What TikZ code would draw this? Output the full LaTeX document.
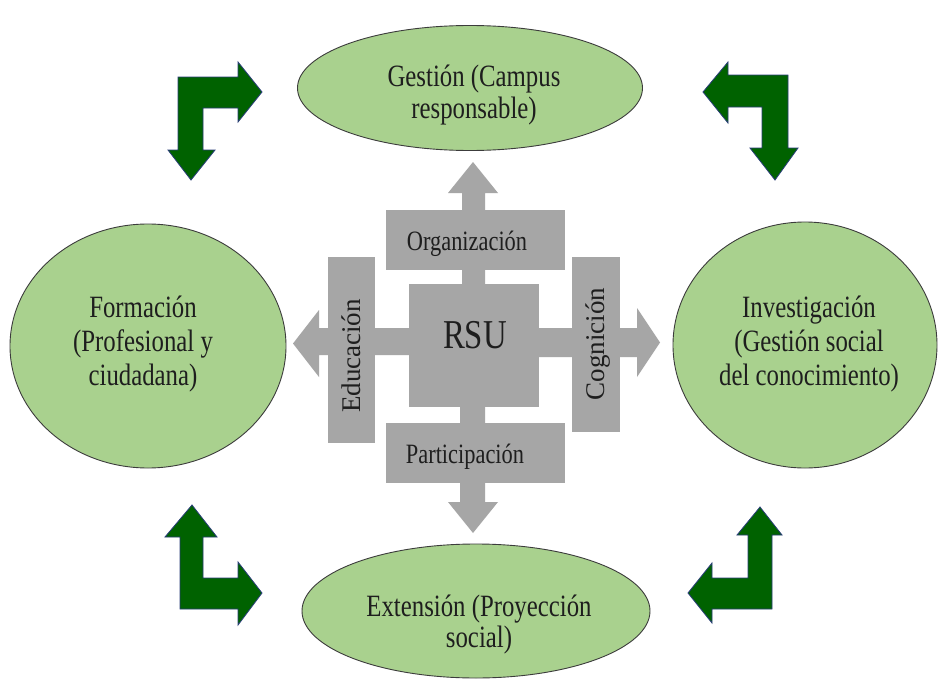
\documentclass[tikz,border=0pt]{standalone}
\usepackage{fontspec}
\setmainfont{Liberation Serif}
\newfontfamily\narrowserif{Liberation Serif}[FakeStretch=0.8]
\usetikzlibrary{shapes.geometric}
\definecolor{ellfill}{RGB}{169,209,142}
\definecolor{elldraw}{RGB}{60,60,60}
\definecolor{grayfill}{RGB}{166,166,166}
\definecolor{arrgreen}{RGB}{0,98,0}
\definecolor{arredge}{RGB}{40,60,120}
\definecolor{txt}{RGB}{30,30,30}
\begin{document}
\begin{tikzpicture}[x=1pt,y=-1pt,
  ell/.style={ellipse, fill=ellfill, draw=elldraw, line width=0.9pt, inner sep=0pt},
  elltext/.style={align=center, inner sep=0pt, font=\narrowserif\fontsize{31}{33}\selectfont, text=txt},
  graybox/.style={rectangle, fill=grayfill, inner sep=0pt},
  labeltext/.style={inner sep=0pt, font=\narrowserif\fontsize{28}{30}\selectfont, text=txt},
  vlabel/.style={inner sep=0pt, font=\fontsize{27}{30}\selectfont, text=txt, rotate=90},
  bent/.style={fill=arrgreen, draw=arredge, line width=0.8pt, line join=miter},
  grayarrow/.style={fill=grayfill}
]
\useasboundingbox (0,0) rectangle (938,680);
\fill[white] (0,0) rectangle (938,680);

% ellipses
\node[ell, minimum width=345pt, minimum height=125pt] (gest) at (470,88) {};
\node[ell, minimum width=276pt, minimum height=244pt] (form) at (148,346) {};
\node[ell, minimum width=264pt, minimum height=246pt] (inve) at (805,345) {};
\node[ell, minimum width=348pt, minimum height=134pt] (exte) at (476,611) {};

\node[elltext, font=\narrowserif\fontsize{31}{32}\selectfont] (gestt) at (474,95) {Gestión (Campus\\responsable)};
\node[elltext, font=\narrowserif\fontsize{31}{34}\selectfont] (formt) at (143,344) {Formación\\(Profesional y\\ciudadana)};
\node[elltext, font=\narrowserif\fontsize{31}{34}\selectfont] (invet) at (809,344) {Investigación\\(Gestión social\\del conocimiento)};
\node[elltext, font=\narrowserif\fontsize{31}{31}\selectfont] (extet) at (479,625) {Extensión (Proyección\\social)};

% gray arrows
\fill[grayarrow] (462,290) -- (462,193) -- (448,193) -- (473,162) -- (498,193) -- (485,193) -- (485,290) -- cycle;
\fill[grayarrow] (460,400) -- (460,502) -- (448,502) -- (473,533) -- (498,502) -- (485,502) -- (485,400) -- cycle;
\fill[grayarrow] (415,328) -- (319,328) -- (319,310) -- (293,343.5) -- (319,377) -- (319,355) -- (415,355) -- cycle;
\fill[grayarrow] (535,328) -- (637,328) -- (637,308) -- (660,342.5) -- (637,377) -- (637,357) -- (535,357) -- cycle;

% gray boxes
\node[graybox, minimum width=179pt, minimum height=60pt] (orgbox) at (475.5,240) {};
\node[graybox, minimum width=179pt, minimum height=60pt] (parbox) at (475.5,453) {};
\node[graybox, minimum width=47pt, minimum height=186pt] (edubox) at (351.5,350) {};
\node[graybox, minimum width=48pt, minimum height=175pt] (cogbox) at (596,344.5) {};
\node[graybox, minimum width=130pt, minimum height=123pt] (rsubox) at (474,345.5) {};

\node[labeltext, anchor=base] (orgt) at (467,250) {Organización};
\node[labeltext, anchor=base] (part) at (465,463) {Participación};
\node[vlabel, anchor=base] (edut) at (360,356) {Educación};
\node[vlabel, anchor=base] (cogt) at (604,344) {Cognición};
\node[inner sep=0pt, anchor=base, font=\narrowserif\fontsize{41}{44}\selectfont, text=txt] (rsut) at (475,348) {RSU};

% green bent arrows
\draw[bent] (178,77) -- (238,77) -- (238,62) -- (262,92) -- (238,122) -- (238,108) -- (203,108) -- (203,150) -- (215,150) -- (191,180) -- (168,150) -- (178,150) -- cycle;
\draw[bent] (788,75) -- (728,75) -- (728,62) -- (703,92) -- (728,123) -- (728,107) -- (762,107) -- (762,148) -- (750,148) -- (775,180) -- (798,148) -- (788,148) -- cycle;
\draw[bent] (180,609) -- (180,537) -- (165,537) -- (192,505) -- (217,537) -- (203,537) -- (203,578) -- (238,578) -- (238,562) -- (262,593) -- (238,625) -- (238,609) -- cycle;
\draw[bent] (772,609) -- (772,535) -- (782,535) -- (760,507) -- (737,535) -- (748,535) -- (748,578) -- (712,578) -- (712,563) -- (688,593) -- (712,623) -- (712,609) -- cycle;
\end{tikzpicture}
\end{document}
